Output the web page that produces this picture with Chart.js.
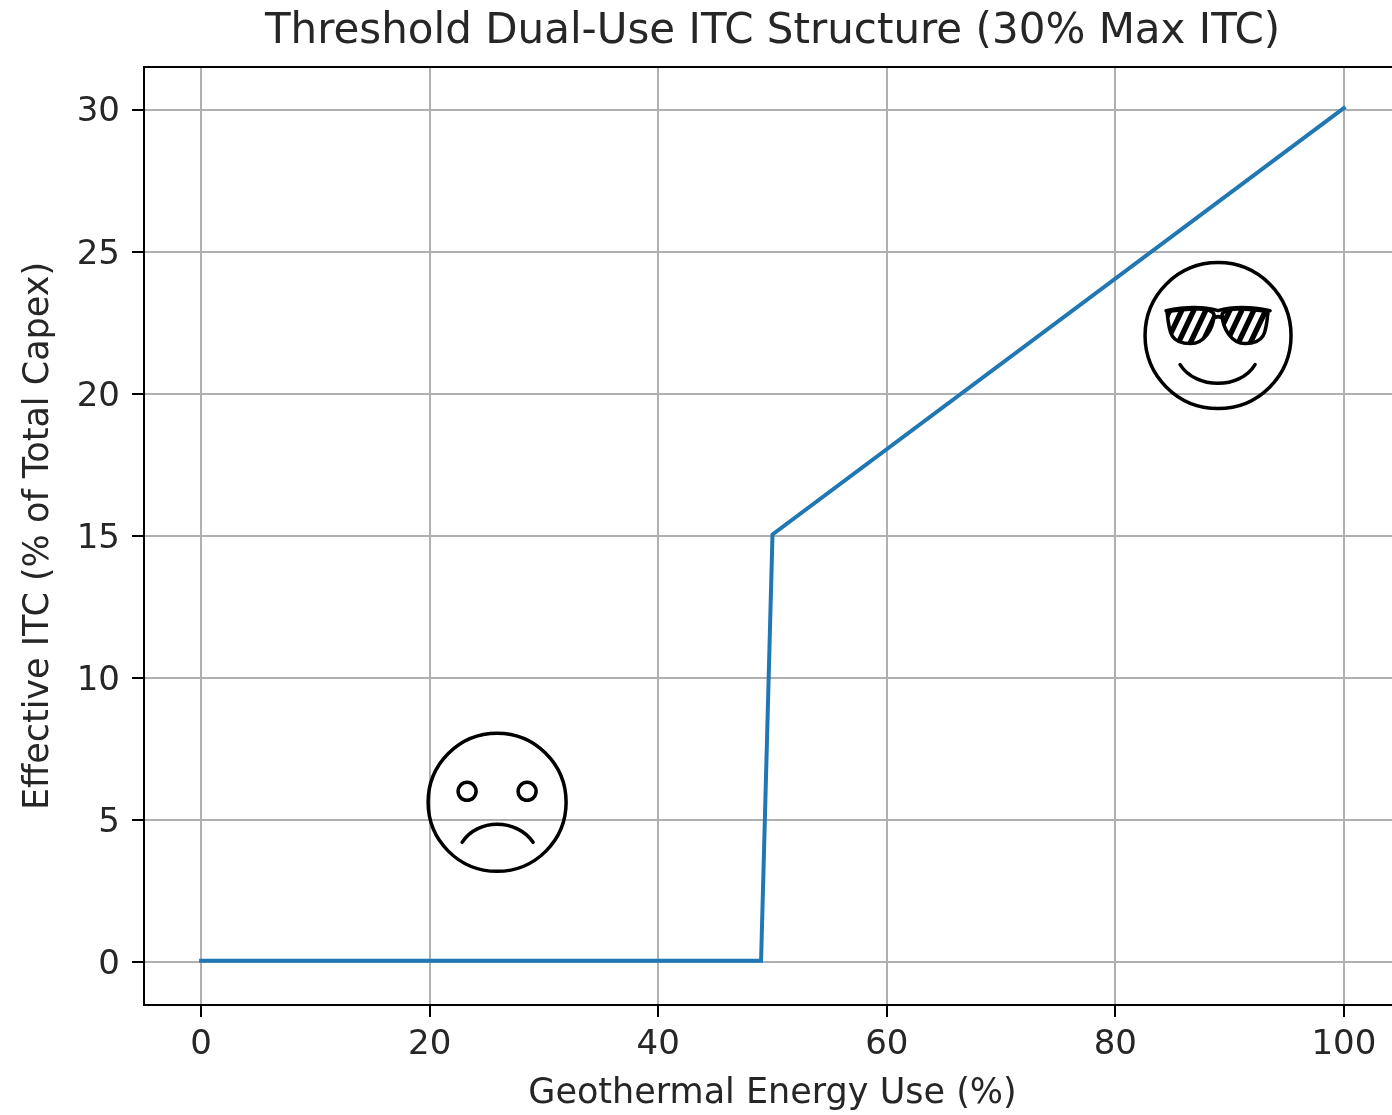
<!DOCTYPE html>
<html>
<head>
    <title>Threshold Dual-Use ITC Structure</title>
    <script src="https://cdn.jsdelivr.net/npm/chart.js"></script>
    <style>
        html, body { margin: 0; padding: 0; background: #fff; overflow: hidden; }
        #chartContainer { width: 1392px; height: 1115px; overflow: hidden; }
    </style>
</head>
<body>
    <div id="chartContainer">
        <canvas id="itcChart" width="1544" height="1115"></canvas>
    </div>
    <script>
        // Values
        const geothermalUse = [0, 49, 50, 100];
        const effectiveItc = [0, 0, 15, 30];
        const xTicks = [0, 20, 40, 60, 80, 100];
        const yTicks = [0, 5, 10, 15, 20, 25, 30];
        const sadFaceAt = { x: 25.9, y: 5.63 };
        const happyFaceAt = { x: 88.99, y: 22.05 };

        const font = 'DejaVu Sans';

        function circle(c, x, y, r) {
            c.beginPath();
            c.arc(x, y, r, 0, Math.PI * 2);
            c.stroke();
        }

        function drawSad(c, x, y) {
            circle(c, x, y, 69);
            circle(c, x - 30, y - 11, 9);
            circle(c, x + 30, y - 11, 9);
            c.beginPath();
            c.moveTo(x - 35, y + 40);
            c.bezierCurveTo(x - 20, y + 16, x + 20, y + 16, x + 36, y + 40);
            c.stroke();
        }

        function lensPath(c, x, y, a, b) {
            // a is the outer edge, b the inner edge near the bridge
            c.beginPath();
            c.moveTo(x + a, y - 24);
            c.bezierCurveTo(x + a * 0.5, y - 28, x + b * 1.5, y - 28, x + b, y - 21);
            c.bezierCurveTo(x + b * 1.2, y - 6, x + b * 3.5, y + 8, x + (a + b) / 2, y + 8);
            c.bezierCurveTo(x + a * 0.95, y + 8, x + a * 0.96, y - 4, x + a, y - 24);
            c.closePath();
        }

        function drawHappy(c, x, y) {
            circle(c, x, y, 73);
            [[-51, -4], [50, 4]].forEach(([a, b]) => {
                lensPath(c, x, y, a, b);
                c.save();
                c.clip();
                c.fillStyle = '#000';
                c.fillRect(x - 60, y - 35, 120, 50);
                c.strokeStyle = '#fff';
                c.lineWidth = 5.5;
                for (let i = -72; i < 80; i += 12) {
                    c.beginPath();
                    c.moveTo(x + i, y + 12);
                    c.lineTo(x + i + 20, y - 30);
                    c.stroke();
                }
                c.restore();
                lensPath(c, x, y, a, b);
                c.stroke();
            });
            // top bar and bridge
            c.beginPath();
            c.moveTo(x - 52, y - 25);
            c.quadraticCurveTo(x - 22, y - 31, x, y - 25);
            c.quadraticCurveTo(x + 22, y - 31, x + 52, y - 25);
            c.stroke();
            c.beginPath();
            c.moveTo(x - 5, y - 17);
            c.quadraticCurveTo(x, y - 21, x + 5, y - 17);
            c.stroke();
            // smile
            c.beginPath();
            c.moveTo(x - 38, y + 29);
            c.bezierCurveTo(x - 22, y + 54, x + 22, y + 54, x + 37, y + 29);
            c.stroke();
        }

        // Frame and the two faces, placed through the chart's scales
        const decorations = {
            id: 'decorations',
            beforeDraw(chart) {
                // title sits over the plot area, not the whole canvas
                chart.titleBlock.left = chart.chartArea.left;
                chart.titleBlock.right = chart.chartArea.right;
                // y tick labels sit a little lower than Chart.js centres them
                if (!chart.$labelsMoved) {
                    chart.scales.y.getLabelItems().forEach(item => { item.options.translation[1] += 3; });
                    chart.$labelsMoved = true;
                }
            },
            beforeDatasetDraw(chart) {
                // the curve sits slightly above the grid lines in the reference
                chart.ctx.save();
                chart.ctx.translate(0, -1.5);
            },
            afterDatasetDraw(chart) {
                chart.ctx.restore();
            },
            afterDraw(chart) {
                const c = chart.ctx;
                const a = chart.chartArea;
                const xs = chart.scales.x;
                const ys = chart.scales.y;
                c.save();
                c.strokeStyle = '#000';
                c.lineWidth = 2;
                c.strokeRect(a.left, a.top, a.right - a.left, a.bottom - a.top);
                c.lineWidth = 3.5;
                c.lineCap = 'round';
                drawSad(c, xs.getPixelForValue(sadFaceAt.x), ys.getPixelForValue(sadFaceAt.y));
                drawHappy(c, xs.getPixelForValue(happyFaceAt.x), ys.getPixelForValue(happyFaceAt.y));
                c.restore();
            }
        };

        new Chart(document.getElementById('itcChart').getContext('2d'), {
            type: 'line',
            data: {
                datasets: [{
                    data: geothermalUse.map((x, i) => ({ x: x, y: effectiveItc[i] })),
                    borderColor: '#1f77b4',
                    borderWidth: 4,
                    pointRadius: 0,
                    tension: 0,
                    fill: false,
                    borderJoinStyle: 'miter',
                    borderCapStyle: 'square',
                    clip: false
                }]
            },
            options: {
                responsive: false,
                animation: false,
                layout: { padding: { left: 0, right: 143, top: 0, bottom: 0 } },
                plugins: {
                    legend: { display: false },
                    tooltip: { enabled: false },
                    title: {
                        display: true,
                        text: 'Threshold Dual-Use ITC Structure (30% Max ITC)',
                        color: '#262626',
                        font: { family: font, size: 42, weight: 'normal' },
                        padding: { top: 7, bottom: 9.6 }
                    }
                },
                scales: {
                    x: {
                        type: 'linear',
                        min: -5,
                        max: 105,
                        afterBuildTicks: (s) => { s.ticks = xTicks.map(v => ({ value: v })); },
                        grid: { color: '#b0b0b0', lineWidth: 2, tickColor: '#000', tickLength: 12, drawOnChartArea: true },
                        border: { color: '#000', width: 2 },
                        ticks: { color: '#262626', font: { family: font, size: 34 }, maxRotation: 0, padding: 8, autoSkip: false },
                        title: {
                            display: true,
                            text: 'Geothermal Energy Use (%)',
                            color: '#262626',
                            font: { family: font, size: 35 },
                            padding: { top: 2, bottom: 0 }
                        },
                        afterFit: (s) => { s.height = 110; }
                    },
                    y: {
                        min: -1.5,
                        max: 31.5,
                        afterBuildTicks: (s) => { s.ticks = yTicks.map(v => ({ value: v })); },
                        grid: { color: '#b0b0b0', lineWidth: 2, tickColor: '#000', tickLength: 12 },
                        border: { color: '#000', width: 2 },
                        ticks: { color: '#262626', font: { family: font, size: 34 }, padding: 12, autoSkip: false },
                        title: {
                            display: true,
                            text: 'Effective ITC (% of Total Capex)',
                            color: '#262626',
                            font: { family: font, size: 35 },
                            padding: { top: 18, bottom: 0 }
                        },
                        afterFit: (s) => { s.width = 144; }
                    }
                }
            },
            plugins: [decorations]
        });
    </script>
</body>
</html>
